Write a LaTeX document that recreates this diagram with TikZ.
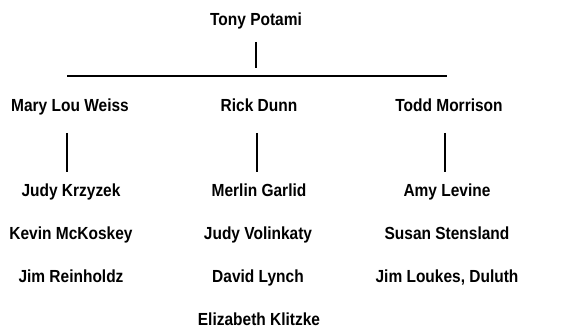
\documentclass[tikz,border=0pt]{standalone}
\usepackage{fontspec}
\setmainfont[FakeStretch=0.885]{Liberation Sans}
\begin{document}
\begin{tikzpicture}[x=1pt,y=-1pt,
  person/.style={font=\bfseries\fontsize{17.5}{20}\selectfont, inner sep=0pt, anchor=base},
  link/.style={line width=1.1pt}]
\useasboundingbox (0,0) rectangle (569,328);
\node[person] (tony) at (256,26) {Tony Potami};
\node[person] (mary) at (70,112) {Mary Lou Weiss};
\node[person] (rick) at (259,112) {Rick Dunn};
\node[person] (todd) at (449,112) {Todd Morrison};
\node[person] (judyk) at (71,197) {Judy Krzyzek};
\node[person] (kevin) at (71,240) {Kevin McKoskey};
\node[person] (jimr) at (71,282) {Jim Reinholdz};
\node[person] (merlin) at (259,197) {Merlin Garlid};
\node[person] (judyv) at (258,240) {Judy Volinkaty};
\node[person] (david) at (258,282) {David Lynch};
\node[person] (eliz) at (259,325) {Elizabeth Klitzke};
\node[person] (amy) at (447,197) {Amy Levine};
\node[person] (susan) at (447,240) {Susan Stensland};
\node[person] (jiml) at (447,282) {Jim Loukes, Duluth};
\coordinate (t1) at (256,42);
\coordinate (t2) at (256,68);
\coordinate (hl) at (67,76);
\coordinate (hr) at (447,76);
\coordinate (m1) at (67,133);
\coordinate (m2) at (67,172);
\coordinate (r1) at (257,133);
\coordinate (r2) at (257,172);
\coordinate (d1) at (445,133);
\coordinate (d2) at (445,172);
\draw[link] (t1) -- (t2);
\draw[link] (hl) -- (hr);
\draw[link] (m1) -- (m2);
\draw[link] (r1) -- (r2);
\draw[link] (d1) -- (d2);
\end{tikzpicture}
\end{document}
